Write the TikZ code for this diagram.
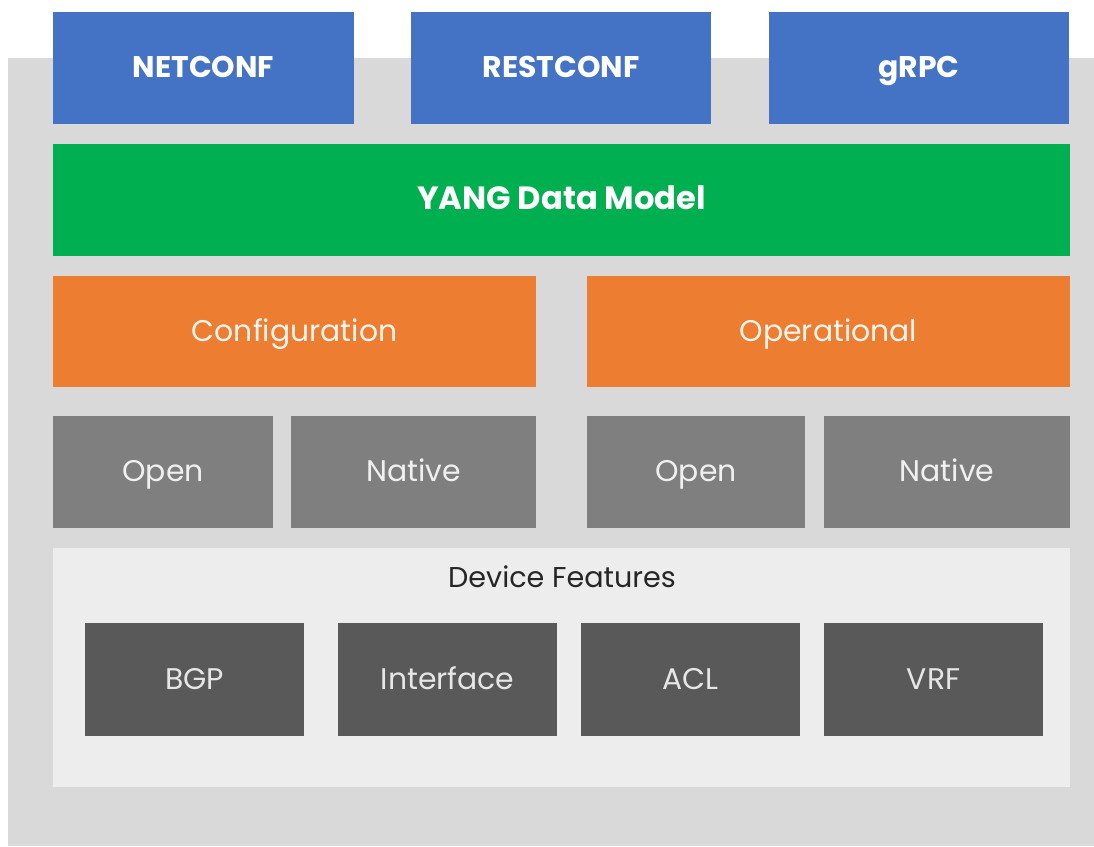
\documentclass[tikz,border=0pt]{standalone}
\usepackage{fontspec}
\setmainfont{Poppins}
\usepackage{xcolor}
\usepackage{tikz}
\usetikzlibrary{fit}

\definecolor{protoblue}{HTML}{4472C4}
\definecolor{yanggreen}{HTML}{00B050}
\definecolor{modeorange}{HTML}{ED7D31}
\definecolor{panelgrey}{HTML}{D9D9D9}
\definecolor{midgrey}{HTML}{7F7F7F}
\definecolor{featgrey}{HTML}{EDEDED}
\definecolor{darkgrey}{HTML}{595959}

\tikzset{
  layer/.style={rectangle,inner sep=0pt,draw=none},
  caption/.style={text height=0.7em,text depth=0pt,inner sep=0pt,yshift=-2pt,font=\fontsize{17}{20}\selectfont},
  proto/.style={layer,fill=protoblue,
    label={[caption,text=white,font=\fontsize{17}{20}\selectfont\bfseries]center:#1}},
  model/.style={layer,fill=yanggreen,
    label={[caption,text=white,font=\fontsize{18.3}{22}\selectfont\bfseries]center:#1}},
  mode/.style={layer,fill=modeorange,label={[caption,text=white!92!modeorange]center:#1}},
  flavour/.style={layer,fill=midgrey,label={[caption,text=white!88!midgrey]center:#1}},
  feature/.style={layer,fill=darkgrey,label={[caption,text=white!85!darkgrey]center:#1}}
}

\begin{document}
\begin{tikzpicture}[x=0.02cm,y=-0.02cm]
\useasboundingbox[fill=white] (0,0) rectangle (1094,846);
\fill[panelgrey] (8,58) rectangle (1094,846);

% protocols
\node[proto=NETCONF,fit={(53,12) (354,124)}] (netconf) {};
\node[proto=RESTCONF,fit={(411,12) (711,124)}] (restconf) {};
\node[proto=gRPC,fit={(769,12) (1069,124)}] (grpc) {};

% data model
\node[model=YANG Data Model,fit={(53,144) (1070,256)}] (yang) {};

\node[mode=Configuration,fit={(53,276) (536,387)}] (config) {};
\node[mode=Operational,fit={(587,276) (1070,387)}] (oper) {};

\node[flavour=Open,fit={(53,416) (273,528)}] (cfgopen) {};
\node[flavour=Native,fit={(291,416) (536,528)}] (cfgnative) {};
\node[flavour=Open,fit={(587,416) (805,528)}] (opopen) {};
\node[flavour=Native,fit={(824,416) (1070,528)}] (opnative) {};

% device features
\node[layer,fill=featgrey,fit={(53,548) (1070,787)}] (device) {};
\node[caption,font=\fontsize{16.3}{19}\selectfont,text=black!85] (devlabel) at (562,578) {Device Features};

\node[feature=BGP,fit={(85,623) (304,736)}] (bgp) {};
\node[feature=Interface,fit={(338,623) (557,736)}] (iface) {};
\node[feature=ACL,fit={(581,623) (800,736)}] (acl) {};
\node[feature=VRF,fit={(824,623) (1043,736)}] (vrf) {};
\end{tikzpicture}
\end{document}
